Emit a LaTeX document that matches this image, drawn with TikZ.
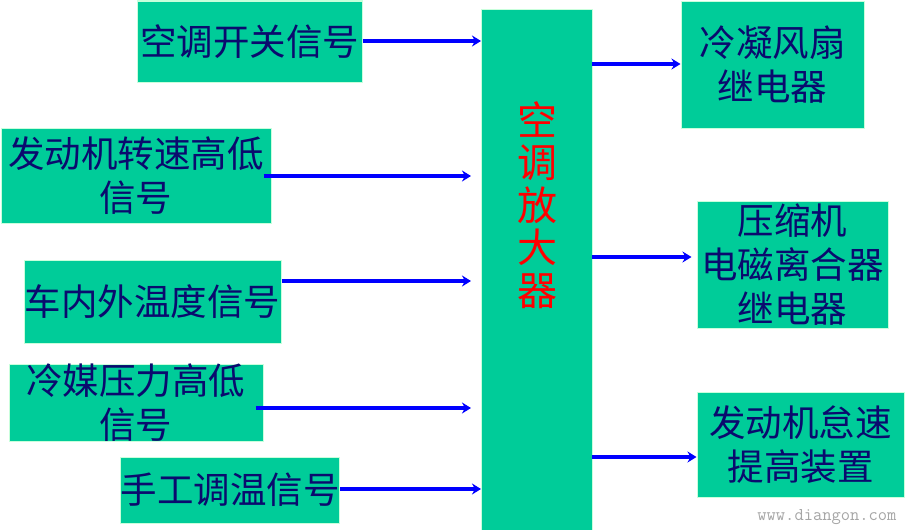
\documentclass[tikz,border=0pt]{standalone}
\usepackage{fontspec}
\newfontfamily\cjk{Noto Sans CJK SC}
\usetikzlibrary{arrows.meta}
\definecolor{boxfill}{RGB}{0,204,153}
\definecolor{boxline}{RGB}{200,255,220}
\definecolor{txt}{RGB}{10,10,110}
\definecolor{arrblue}{RGB}{0,0,255}
\tikzset{
  sig/.style={draw=boxline, line width=1pt, fill=boxfill, inner sep=0pt,
    text=txt, align=center, font=\cjk\fontsize{36.5}{44}\selectfont},
  amp/.style={draw=boxline, line width=1pt, fill=boxfill, inner sep=0pt},
  arr/.style={draw=arrblue, line width=3.5pt, -{Stealth[length=9pt,width=11pt]}},
}
\begin{document}
\begin{tikzpicture}[x=1pt,y=-1pt]
\useasboundingbox (0,0) rectangle (905,530);
\fill[white] (0,0) rectangle (905,530);
% center box
\node[amp, minimum width=111pt, minimum height=530pt, anchor=north west] (amp) at (481,9) {};
\node[text=red, font=\cjk\fontsize{40}{42.5}\selectfont, align=center] (ampt) at (537,205)
  {空\\调\\放\\大\\器};
% left boxes
\node[sig, minimum width=225pt, minimum height=81pt] (l1) at (249.5,41.5) {空调开关信号};
\node[sig, minimum width=270pt, minimum height=95pt] (l2) at (136,175.5) {发动机转速高低\\信号};
\node[sig, minimum width=257pt, minimum height=83pt] (l3) at (152.5,301.5) {\raisebox{-4pt}{车内外温度信号}};
\node[sig, minimum width=254pt, minimum height=74pt] (l4) at (136,403) {冷媒压力高低\\信号};
\node[sig, minimum width=218pt, minimum height=66pt] (l5) at (230,490) {手工调温信号};
% right boxes
\node[sig, minimum width=183pt, minimum height=127pt] (r1) at (772.5,64.5) {冷凝风扇\\继电器};
\node[sig, minimum width=191pt, minimum height=127pt] (r2) at (792.5,264.5) {压缩机\\电磁离合器\\继电器};
\node[sig, minimum width=207pt, minimum height=105pt] (r3) at (800.5,444.5) {发动机怠速\\提高装置};
% arrow end coordinates
\coordinate (e1) at (481,41);
\coordinate (e2) at (471,176);
\coordinate (e3) at (471,281);
\coordinate (e4) at (471,408);
\coordinate (e5) at (481,489);
\coordinate (s6) at (592,64);
\coordinate (s7) at (592,257);
\coordinate (s8) at (592,457);
% arrows
\draw[arr] (l1.east |- e1) -- (e1);
\draw[arr] ([xshift=-8pt]l2.east |- e2) -- (e2);
\draw[arr] (l3.east |- e3) -- (e3);
\draw[arr] ([xshift=-8pt]l4.east |- e4) -- (e4);
\draw[arr] (l5.east |- e5) -- (e5);
\draw[arr] (s6) -- (r1.west |- s6);
\draw[arr] (s7) -- ([xshift=-5pt]r2.west |- s7);
\draw[arr] (s8) -- (r3.west |- s8);
% watermark
\node[text=gray!70, font=\ttfamily\fontsize{18}{18}\selectfont, anchor=east] (wm) at (900,517) {www.diangon.com};
\end{tikzpicture}
\end{document}
